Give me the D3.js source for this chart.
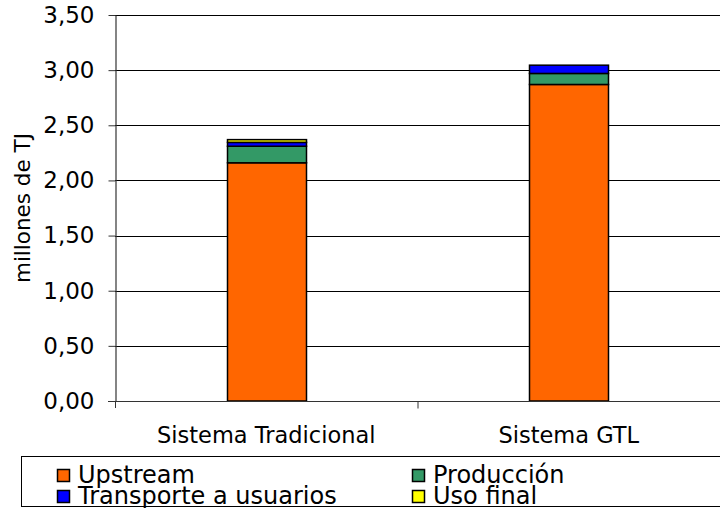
<!DOCTYPE html>
<html>
<head>
<meta charset="utf-8">
<script src="https://cdn.jsdelivr.net/npm/d3@7"></script>
<style>
  body { margin: 0; background: #fff; }
  svg { display: block; font-family: "DejaVu Sans", Verdana, sans-serif; }
</style>
</head>
<body>
<svg id="chart" width="720" height="508"></svg>
<script>
// data (millones de TJ)
const categories = ["Sistema Tradicional", "Sistema GTL"];
const seriesNames = ["Upstream", "Producción", "Transporte a usuarios", "Uso final"];
const upstream = [2.16, 2.87];
const produccion = [0.15, 0.10];
const transporte = [0.035, 0.075];
const usoFinal = [0.025, 0];
const yTicks = [0, 0.5, 1, 1.5, 2, 2.5, 3, 3.5];
const colors = ["#ff6600", "#339966", "#0000ff", "#ffff00"];

const w = 720, h = 508;
const m = { left: 115, right: 0, top: 15, bottom: 107 };

const svg = d3.select("#chart");

const table = categories.map((c, i) => ({
  cat: c,
  "Upstream": upstream[i],
  "Producción": produccion[i],
  "Transporte a usuarios": transporte[i],
  "Uso final": usoFinal[i]
}));
const stacked = d3.stack().keys(seriesNames)(table);

const x = d3.scaleBand()
  .domain(categories)
  .range([m.left, w - m.right])
  .paddingInner(0)
  .paddingOuter(0);

const y = d3.scaleLinear()
  .domain([0, 3.5])
  .range([h - m.bottom, m.top]);

const fmt = d => d3.format(".2f")(d).replace(".", ",");

// grid lines
svg.append("g")
  .selectAll("line")
  .data(yTicks.slice(1))
  .enter()
  .append("line")
  .attr("x1", m.left)
  .attr("x2", w)
  .attr("y1", d => Math.round(y(d)) + 0.5)
  .attr("y2", d => Math.round(y(d)) + 0.5)
  .attr("stroke", "#000")
  .attr("stroke-width", 1);

// bars
const bw = x.bandwidth() * 0.26;
svg.append("g")
  .selectAll("g")
  .data(stacked)
  .enter()
  .append("g")
  .attr("fill", (d, i) => colors[i])
  .selectAll("rect")
  .data(d => d.filter(s => s[1] - s[0] > 0))
  .enter()
  .append("rect")
  .attr("x", d => Math.round(x(d.data.cat) + x.bandwidth() / 2 - bw / 2) + 0.5)
  .attr("width", Math.round(bw))
  .attr("y", d => y(d[1]))
  .attr("height", d => y(d[0]) - y(d[1]))
  .attr("stroke", "#000")
  .attr("stroke-width", 1.5);

// y axis
const yAxis = d3.axisLeft(y)
  .tickValues(yTicks)
  .tickFormat(fmt)
  .tickSize(7)
  .tickSizeOuter(0)
  .tickPadding(14);
const gy = svg.append("g")
  .attr("transform", `translate(${m.left + 0.5},0)`)
  .call(yAxis);
gy.selectAll("text").attr("font-size", 23).attr("fill", "#000")
  .attr("font-family", "DejaVu Sans");
gy.select(".domain").attr("stroke", "#333").attr("stroke-width", 1.2);
gy.selectAll(".tick line").attr("stroke", "#333");
gy.append("line")
  .attr("x1", 0).attr("x2", 0)
  .attr("y1", y(0)).attr("y2", y(0) + 7)
  .attr("stroke", "#333");

// x axis
const gx = svg.append("g")
  .attr("transform", `translate(0,${Math.round(y(0)) + 0.5})`);
gx.append("line")
  .attr("x1", m.left - 7).attr("x2", w)
  .attr("stroke", "#333").attr("stroke-width", 1.2);
gx.selectAll(".sep")
  .data(categories.slice(1))
  .enter()
  .append("line")
  .attr("x1", d => x(d) + 0.5).attr("x2", d => x(d) + 0.5)
  .attr("y1", 0).attr("y2", 7)
  .attr("stroke", "#333");
gx.selectAll("text")
  .data(categories)
  .enter()
  .append("text")
  .attr("x", d => x(d) + x.bandwidth() / 2)
  .attr("y", 41)
  .attr("text-anchor", "middle")
  .attr("font-size", 22.5)
  .text(d => d);

// y label
svg.append("text")
  .attr("transform", `translate(30,${(y(0) + y(3.5)) / 2}) rotate(-90)`)
  .attr("text-anchor", "middle")
  .attr("font-size", 21.5)
  .text("millones de TJ");

// legend
const lg = svg.append("g");
lg.append("rect")
  .attr("x", 21.5).attr("y", 456.5)
  .attr("width", 710).attr("height", 50)
  .attr("fill", "#fff")
  .attr("stroke", "#000");
const legendPos = [[57, 483], [412, 483], [57, 504], [412, 504]];
const items = lg.selectAll("g.item")
  .data(seriesNames)
  .enter()
  .append("g")
  .attr("transform", (d, i) => `translate(${legendPos[i][0]},${legendPos[i][1]})`);
items.append("rect")
  .attr("x", 0.5).attr("y", -13.5)
  .attr("width", 12).attr("height", 12)
  .attr("fill", (d, i) => colors[i])
  .attr("stroke", "#000")
  .attr("stroke-width", 1.5);
items.append("text")
  .attr("x", 21)
  .attr("y", 0)
  .attr("font-size", 24)
  .text(d => d);
</script>
</body>
</html>
